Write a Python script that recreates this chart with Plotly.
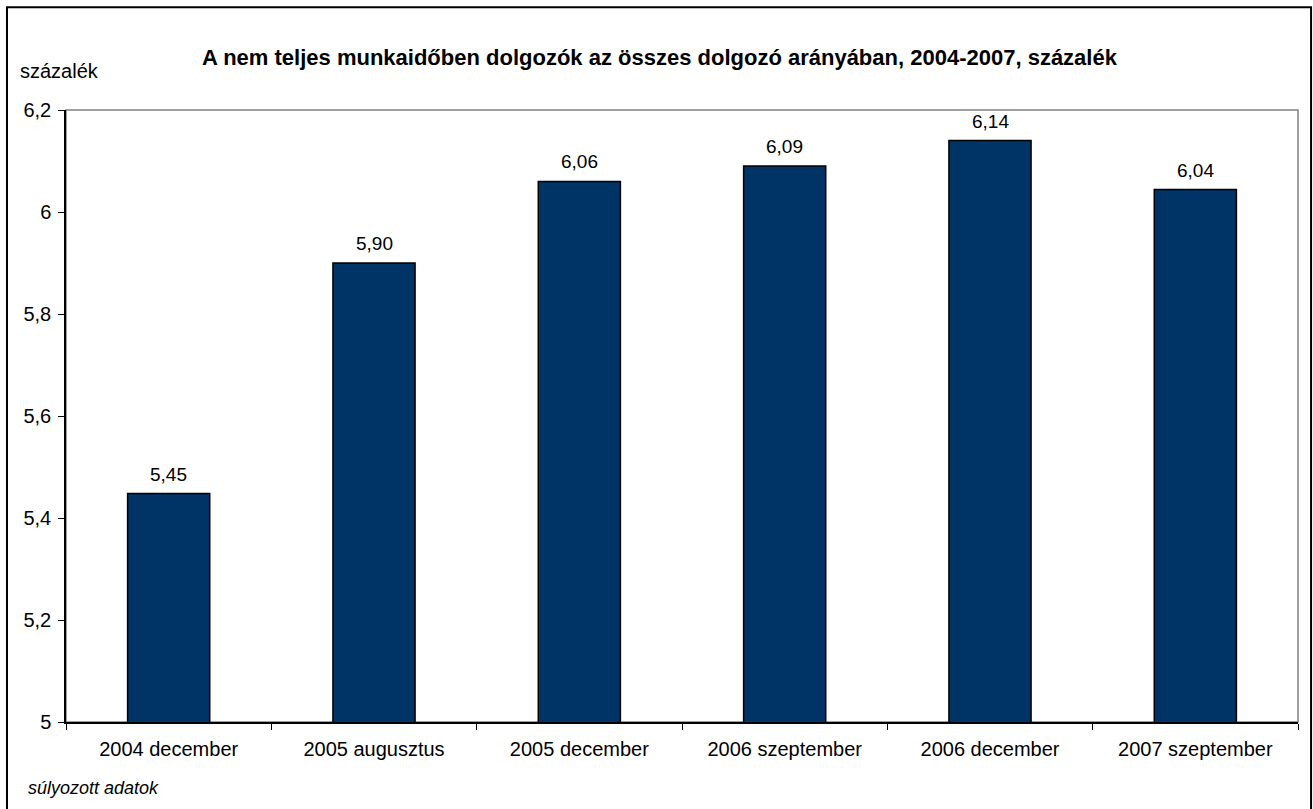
import plotly.graph_objects as go

categories = ["2004 december", "2005 augusztus", "2005 december",
              "2006 szeptember", "2006 december", "2007 szeptember"]
values = [5.448, 5.90, 6.06, 6.09, 6.14, 6.044]

FONT = "Arial, Liberation Sans, sans-serif"

fig = go.Figure(go.Bar(
    x=categories,
    y=values,
    marker=dict(color="#003366", line=dict(color="black", width=1.5)),
))

# value labels above the bars
for c, v in zip(categories, values):
    fig.add_annotation(x=c, y=v, text=f"{v:.2f}".replace(".", ","),
                       yanchor="bottom", yshift=7, showarrow=False,
                       font=dict(size=19))

fig.update_layout(
    width=1313, height=809,
    margin=dict(l=66, r=15, t=110, b=87),
    paper_bgcolor="white", plot_bgcolor="white",
    separators=", ",
    bargap=0.6,
    showlegend=False,
    font=dict(family=FONT, size=19, color="black"),
)

fig.update_yaxes(
    range=[5, 6.2], dtick=0.2, tick0=5,
    showgrid=False, zeroline=False,
    showline=True, linecolor="black", linewidth=1.5,
    ticks="outside", ticklen=6, tickcolor="black",
    tickfont=dict(size=20), ticklabelstandoff=3,
)
fig.update_xaxes(
    showgrid=False,
    showline=True, linecolor="black", linewidth=1.5,
    ticks="outside", ticklen=6, tickcolor="black", tickson="boundaries",
    tickfont=dict(size=20), ticklabelstandoff=8,
)

# grey plot-area frame and outer chart border
fig.add_shape(type="rect", xref="paper", yref="paper", x0=0, x1=1, y0=0, y1=1,
              line=dict(color="#808080", width=1.5), layer="below")
fig.add_shape(type="rect", xref="paper", yref="paper",
              x0=-0.0479, x1=1.0106, y0=-0.16, y1=1.168,
              line=dict(color="black", width=2))

fig.add_annotation(text="<b>A nem teljes munkaidőben dolgozók az összes dolgozó arányában, 2004-2007, százalék</b>",
                   xref="paper", yref="paper", x=0.482, y=1.109, showarrow=False,
                   font=dict(size=22))
fig.add_annotation(text="százalék", xref="paper", yref="paper", x=-0.039, y=1.085,
                   xanchor="left", showarrow=False, font=dict(size=20))
fig.add_annotation(text="<i>súlyozott adatok</i>", xref="paper", yref="paper",
                   x=-0.0325, y=-0.108, xanchor="left", yanchor="middle",
                   showarrow=False, font=dict(size=18))

fig.write_html("out.html", config={"displayModeBar": False},
               post_script="document.body.style.margin='0';")
